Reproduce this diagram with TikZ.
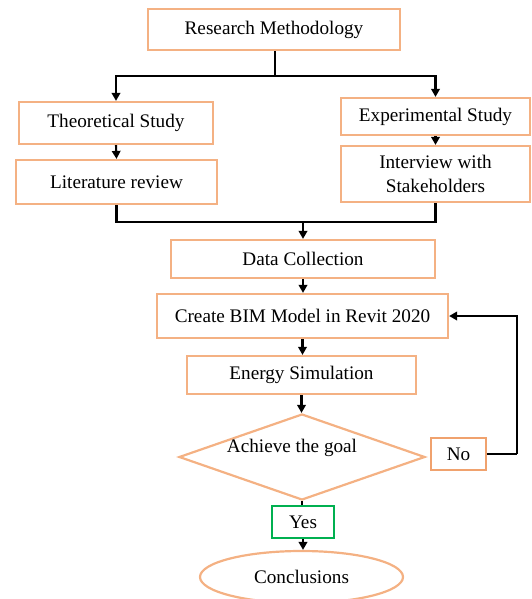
\documentclass[tikz,border=0pt]{standalone}
\usepackage{fontspec}
\setmainfont{Liberation Serif}
\usetikzlibrary{arrows.meta,shapes.geometric}
\definecolor{boxorange}{HTML}{F4B183}
\definecolor{noorange}{HTML}{F0A26E}
\definecolor{yesgreen}{HTML}{00B050}
\begin{document}
\begin{tikzpicture}[x=1pt,y=-1pt,
  every node/.style={font=\fontsize{19.2}{23.5}\selectfont, text=black},
  stepbox/.style={draw=boxorange, line width=2.2pt, rectangle, inner sep=0pt, align=center},
  conn/.style={draw=black, line width=2.1pt},
  arr/.style={conn, -{Triangle[length=8pt,width=8.5pt]}}]
\useasboundingbox (0,0) rectangle (532,599);
\node[stepbox, minimum width=252pt, minimum height=41pt] (rm) at (274,29.5) {Research Methodology};
\node[stepbox, minimum width=194pt, minimum height=42pt] (ts) at (116,123) {Theoretical Study};
\node[stepbox, minimum width=201pt, minimum height=44pt] (lr) at (116.5,182) {Literature review};
\node[stepbox, minimum width=189pt, minimum height=37pt] (es) at (435.5,116.5) {Experimental Study};
\node[stepbox, minimum width=189pt, minimum height=56pt] (iw) at (435.5,174) {Interview with\\Stakeholders};
\node[stepbox, minimum width=264pt, minimum height=38pt] (dc) at (303,259) {Data Collection};
\node[stepbox, minimum width=291pt, minimum height=44pt] (bim) at (302.5,316) {Create BIM Model in Revit 2020};
\node[stepbox, minimum width=229pt, minimum height=38pt] (en) at (301.5,375) {Energy Simulation};
\node[diamond, draw=boxorange, line width=2.2pt, minimum width=246pt, minimum height=86pt, inner sep=0pt] (goal) at (302,457) {};
\node (goaltext) at (292,448) {Achieve the goal};
\node[draw=noorange, line width=1.8pt, rectangle, inner sep=0pt, minimum width=55pt, minimum height=32pt] (no) at (458.5,454) {No};
\node[draw=yesgreen, line width=1.5pt, rectangle, inner sep=0pt, minimum width=62pt, minimum height=32pt] (yes) at (303,522) {Yes};
\node[ellipse, draw=boxorange, line width=2.2pt, inner sep=0pt, minimum width=203pt, minimum height=52pt] (concl) at (301.5,577) {Conclusions};

\coordinate (split) at (275,76);
\coordinate (merge) at (303,222);
\coordinate (loop) at (517,454);
\draw[conn] (rm.south -| split) -- (split);
\draw[arr] (split) -| (ts.north);
\draw[arr] (split) -| (es.north);
\draw[arr] (ts.south) -- (lr.north);
\draw[arr] (es.south) -- (iw.north);
\draw[conn] (lr.south) |- (merge);
\draw[conn] (iw.south) |- (merge);
\draw[arr] (merge) -- (dc.north);
\draw[arr] (dc.south) -- (dc.south |- bim.north);
\draw[arr] (bim.south) -- (bim.south |- en.north);
\draw[arr] (en.south) -- (en.south |- goal.north);
\draw[conn] (goal.south) -- (goal.south |- yes.north);
\draw[arr] (yes.south) -- (yes.south |- concl.north);
\draw[conn] (no.east) -- (loop);
\draw[arr] (loop) |- (bim.east);
\end{tikzpicture}
\end{document}
